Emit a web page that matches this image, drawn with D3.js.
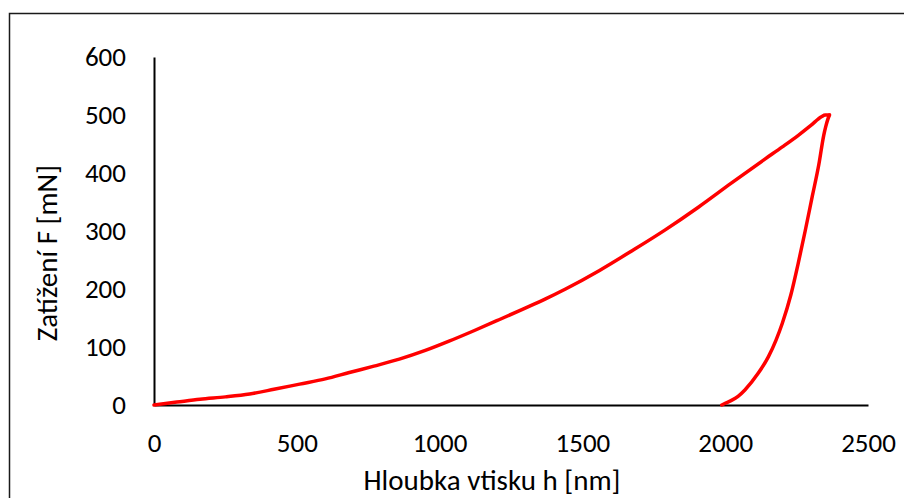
<!DOCTYPE html>
<html>
<head>
<meta charset="utf-8">
<script src="https://cdn.jsdelivr.net/npm/d3@7"></script>
<style>
	body { margin: 0; background: #fff; }
	text { font-family: Carlito, Calibri, "Open Sans", "Noto Sans", sans-serif; fill: #000; }
</style>
</head>
<body>
<div id="chart"></div>
<script>
// depth h [nm] and load F [mN]
const loadDepth = [0, 80, 161, 250, 335, 420, 510, 600, 684, 770, 859, 950, 1033, 1120, 1208, 1290, 1371, 1441, 1560, 1674, 1790, 1906, 2020, 2139, 2200, 2256, 2300, 2337, 2350, 2365]
const loadForce = [0, 5, 10, 14, 19, 27, 36, 45, 56, 67, 79, 94, 110, 128, 147, 165, 183, 200, 232, 266, 302, 341, 382, 424, 445, 465, 482, 497, 500, 500]

// unloading branch, listed from the residual depth up to the peak
const unloadDepth = [1988, 2000, 2022, 2045, 2069, 2116, 2151, 2178, 2200, 2230, 2256, 2280, 2305, 2328, 2345, 2352, 2359, 2365]
const unloadForce = [0, 3, 8, 15, 26, 55, 83, 112, 141, 190, 245, 300, 360, 415, 465, 480, 492, 500]

const xTicks = [0, 500, 1000, 1500, 2000, 2500]
const yTicks = [0, 100, 200, 300, 400, 500, 600]

const xTitle = "Hloubka vtisku h [nm]"
const yTitle = "Zatížení F [mN]"

// SET UP SVG _________________________
const fullWidth = 904, fullHeight = 498
const margin = {top: 57, right: 34, bottom: 93, left: 154}

const svg = d3.select("#chart").append("svg")
		.attr("width", fullWidth)
		.attr("height", fullHeight)

// chart frame, cut off at the right and bottom like the picture
svg.append("rect")
		.attr("x", 9.5)
		.attr("y", 13.5)
		.attr("width", fullWidth + 20)
		.attr("height", fullHeight + 20)
		.attr("fill", "none")
		.attr("stroke", "#1a1a1a")
		.attr("stroke-width", 1.5)

const xScale = d3.scaleLinear()
		.domain([0, 2500])
		.range([margin.left, fullWidth - margin.right - 2])

const yScale = d3.scaleLinear()
		.domain([0, 600])
		.range([fullHeight - margin.bottom, margin.top])

// axes (no tick marks, only labels)
const xAxis = d3.axisBottom(xScale).tickValues(xTicks).tickFormat(d3.format("d")).tickSize(0).tickPadding(28)
const yAxis = d3.axisLeft(yScale).tickValues(yTicks).tickFormat(d3.format("d")).tickSize(0).tickPadding(28)

const xG = svg.append("g")
		.attr("transform", `translate(0,${yScale(0)})`)
		.call(xAxis)
xG.select(".domain").attr("stroke", "#000").attr("stroke-width", 2)
xG.selectAll("text").attr("font-size", 27).attr("font-family", null)

const yG = svg.append("g")
		.attr("transform", `translate(${xScale(0)},0)`)
		.call(yAxis)
yG.select(".domain").attr("stroke", "#000").attr("stroke-width", 2)
yG.selectAll("text").attr("font-size", 27).attr("font-family", null)

// axis titles
svg.append("text")
		.attr("x", 492)
		.attr("y", 490)
		.attr("text-anchor", "middle")
		.attr("font-size", 29)
		.text(xTitle)

svg.append("text")
		.attr("transform", `translate(57,253) rotate(-90)`)
		.attr("text-anchor", "middle")
		.attr("font-size", 29)
		.text(yTitle)

// curves
const loading = loadDepth.map((h, i) => ({h: h, f: loadForce[i]}))
const unloading = unloadDepth.map((h, i) => ({h: h, f: unloadForce[i]}))

const line = d3.line()
		.curve(d3.curveMonotoneX)
		.x(d => xScale(d.h))
		.y(d => yScale(d.f))

svg.selectAll(".curve")
		.data([loading, unloading])
		.join("path")
		.attr("class", "curve")
		.attr("d", d => line(d))
		.attr("fill", "none")
		.attr("stroke", "#ff0000")
		.attr("stroke-width", 3.5)
		.attr("stroke-linejoin", "round")
		.attr("stroke-linecap", "round")
</script>
</body>
</html>
